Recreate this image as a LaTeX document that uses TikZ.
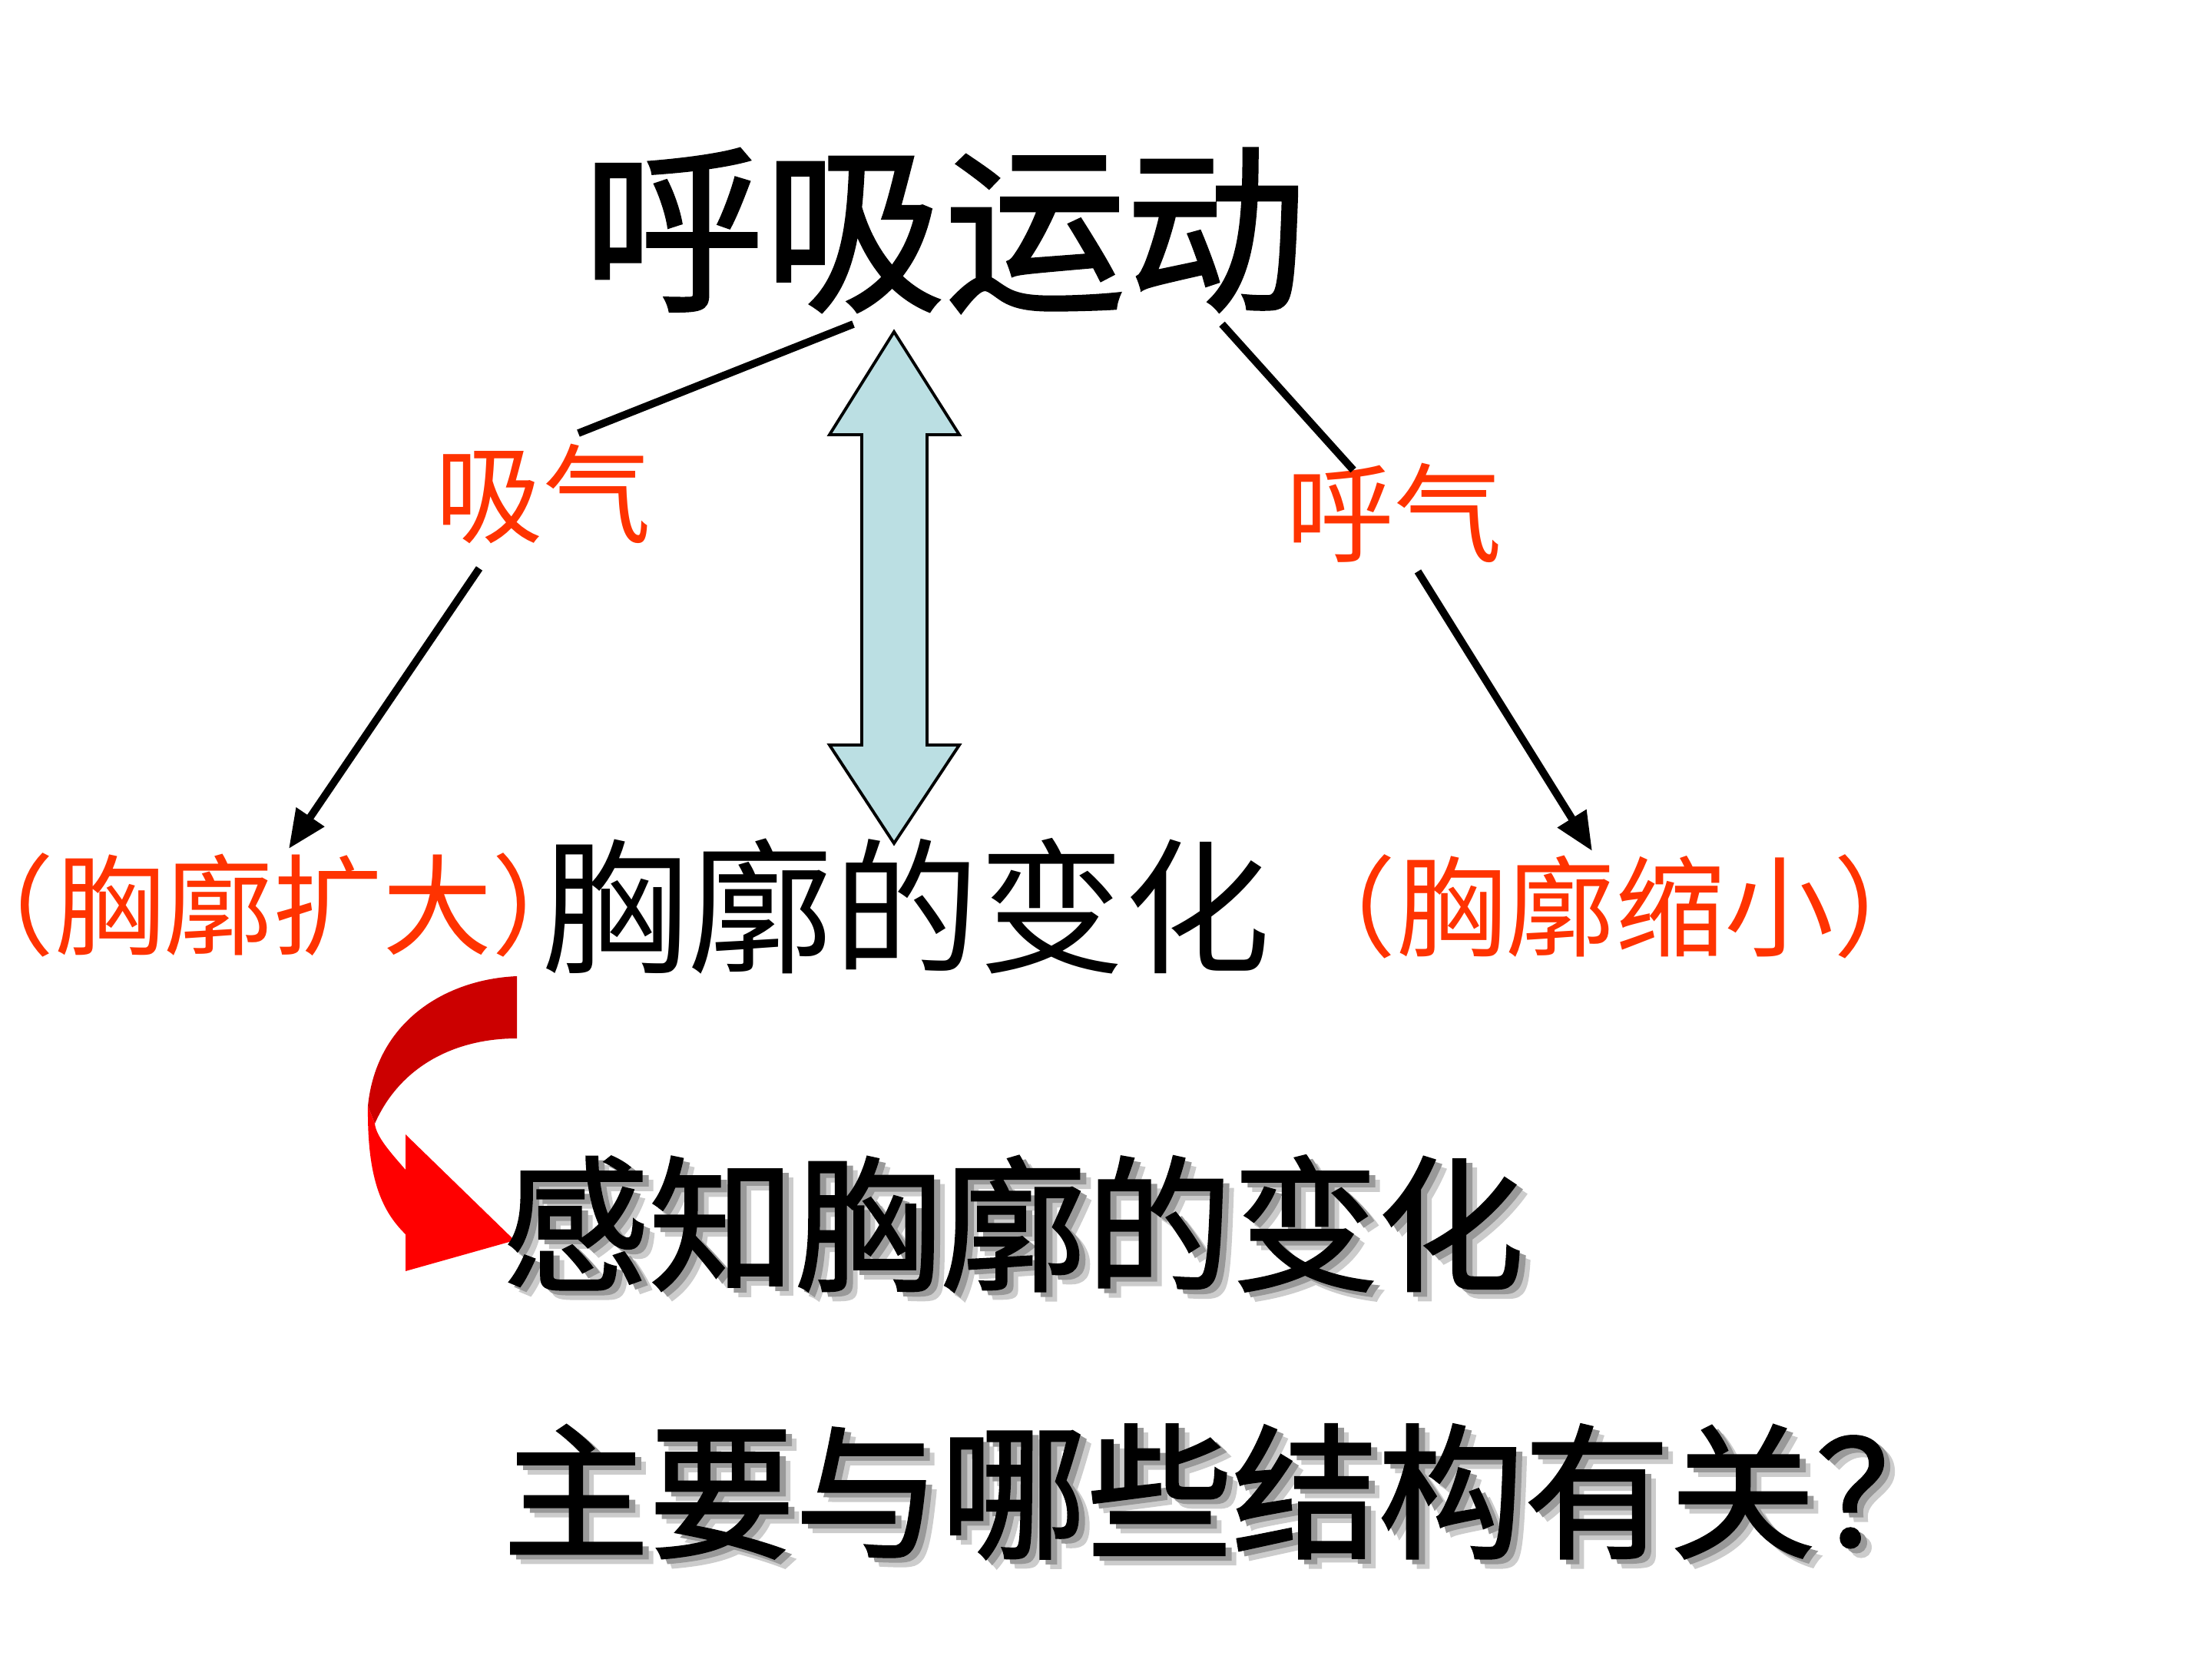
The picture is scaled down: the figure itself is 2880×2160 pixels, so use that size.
\documentclass[tikz,border=0pt]{standalone}
\usepackage{fontspec}
\newfontfamily\cjk{Noto Sans CJK SC}
\newfontfamily\cjkfb[FakeBold=1.6]{Noto Sans CJK SC}
\newfontfamily\cjkhalt[RawFeature=+halt]{Noto Sans CJK SC}
\usetikzlibrary{arrows.meta}
\definecolor{ored}{HTML}{FF3300}
\definecolor{lblue}{HTML}{BBDFE3}
\definecolor{dred}{HTML}{CC0000}
\definecolor{bred}{HTML}{FF0000}
\tikzset{
  txt/.style={inner sep=0pt, outer sep=0pt},
  bigtitle/.style={txt, font=\cjkfb\fontsize{67}{70}\selectfont},
  redlabel/.style={txt, text=ored, font=\cjk\fontsize{40}{44}\selectfont},
  redrow/.style={txt, text=ored, font=\cjkhalt\fontsize{40.5}{44}\selectfont},
  midrow/.style={txt, font=\cjk\fontsize{54}{58}\selectfont},
  shtxt/.style={txt, anchor=west, font=\cjkfb\fontsize{54}{58}\selectfont},
  shadowfar/.style={shtxt, text=black!20},
  shadownear/.style={shtxt, text=black!40},
  conn/.style={line width=2.8pt},
  arr/.style={line width=2.8pt, -{Triangle[length=0.5cm, width=0.42cm]}},
}
\begin{document}
\begin{tikzpicture}[x=0.01cm, y=-0.01cm]
\useasboundingbox (0,0) rectangle (2880,2160);
\fill[white] (0,0) rectangle (2880,2160);

% texts
\node[bigtitle] (title) at (1230,300) {呼吸运动};
\node[redlabel] (inh) at (707,643) {吸气};
\node[redlabel] (exh) at (1815,668) {呼气};
\node[redrow] (expand) at (356,1178) {（胸廓扩大）};
\node[midrow] (chest) at (1180,1180) {胸廓的变化};
\node[redrow] (shrink) at (2103,1180) {（胸廓缩小）};

% connector end points
\coordinate (ta) at (1111,422);
\coordinate (tb) at (753,564);
\coordinate (tc) at (1591,422);
\coordinate (td) at (1762,612);
\coordinate (ia) at (624,740);
\coordinate (ib) at (376,1105);
\coordinate (ea) at (1846,744);
\coordinate (eb) at (2073,1108);

\draw[conn] (ta) -- (tb);
\draw[conn] (tc) -- (td);
\draw[arr] (ia) -- (ib);
\draw[arr] (ea) -- (eb);

% double arrow
\draw[fill=lblue, line width=1.1pt, line join=miter]
  (1164,432) -- (1249,566) -- (1207,566) -- (1207,970) -- (1249,970)
  -- (1164,1098) -- (1080,970) -- (1122,970) -- (1122,566) -- (1080,566) -- cycle;

% curved red arrow
\fill[dred] (673,1271) .. controls (580,1275) and (490,1330) .. (479,1440)
  -- (488,1463) .. controls (520,1390) and (590,1352) .. (673,1352) -- cycle;
\fill[bred] (479,1440) .. controls (478,1530) and (495,1575) .. (528,1607)
  -- (528,1655) -- (670,1615) -- (528,1477) -- (528,1523)
  .. controls (508,1500) and (490,1480) .. (488,1463) -- cycle;

% shadowed lines
\node[shadowfar] (q1s2) at (669,1605) {感知胸廓的变化};
\node[shadownear] (q1s1) at (663,1599) {感知胸廓的变化};
\node[shtxt] (q1) at (655,1593) {感知胸廓的变化};
\node[shadowfar] (q2s2) at (669,1954) {主要与哪些结构有关？};
\node[shadownear] (q2s1) at (663,1948) {主要与哪些结构有关？};
\node[shtxt] (q2) at (655,1942) {主要与哪些结构有关？};
\end{tikzpicture}
\end{document}
